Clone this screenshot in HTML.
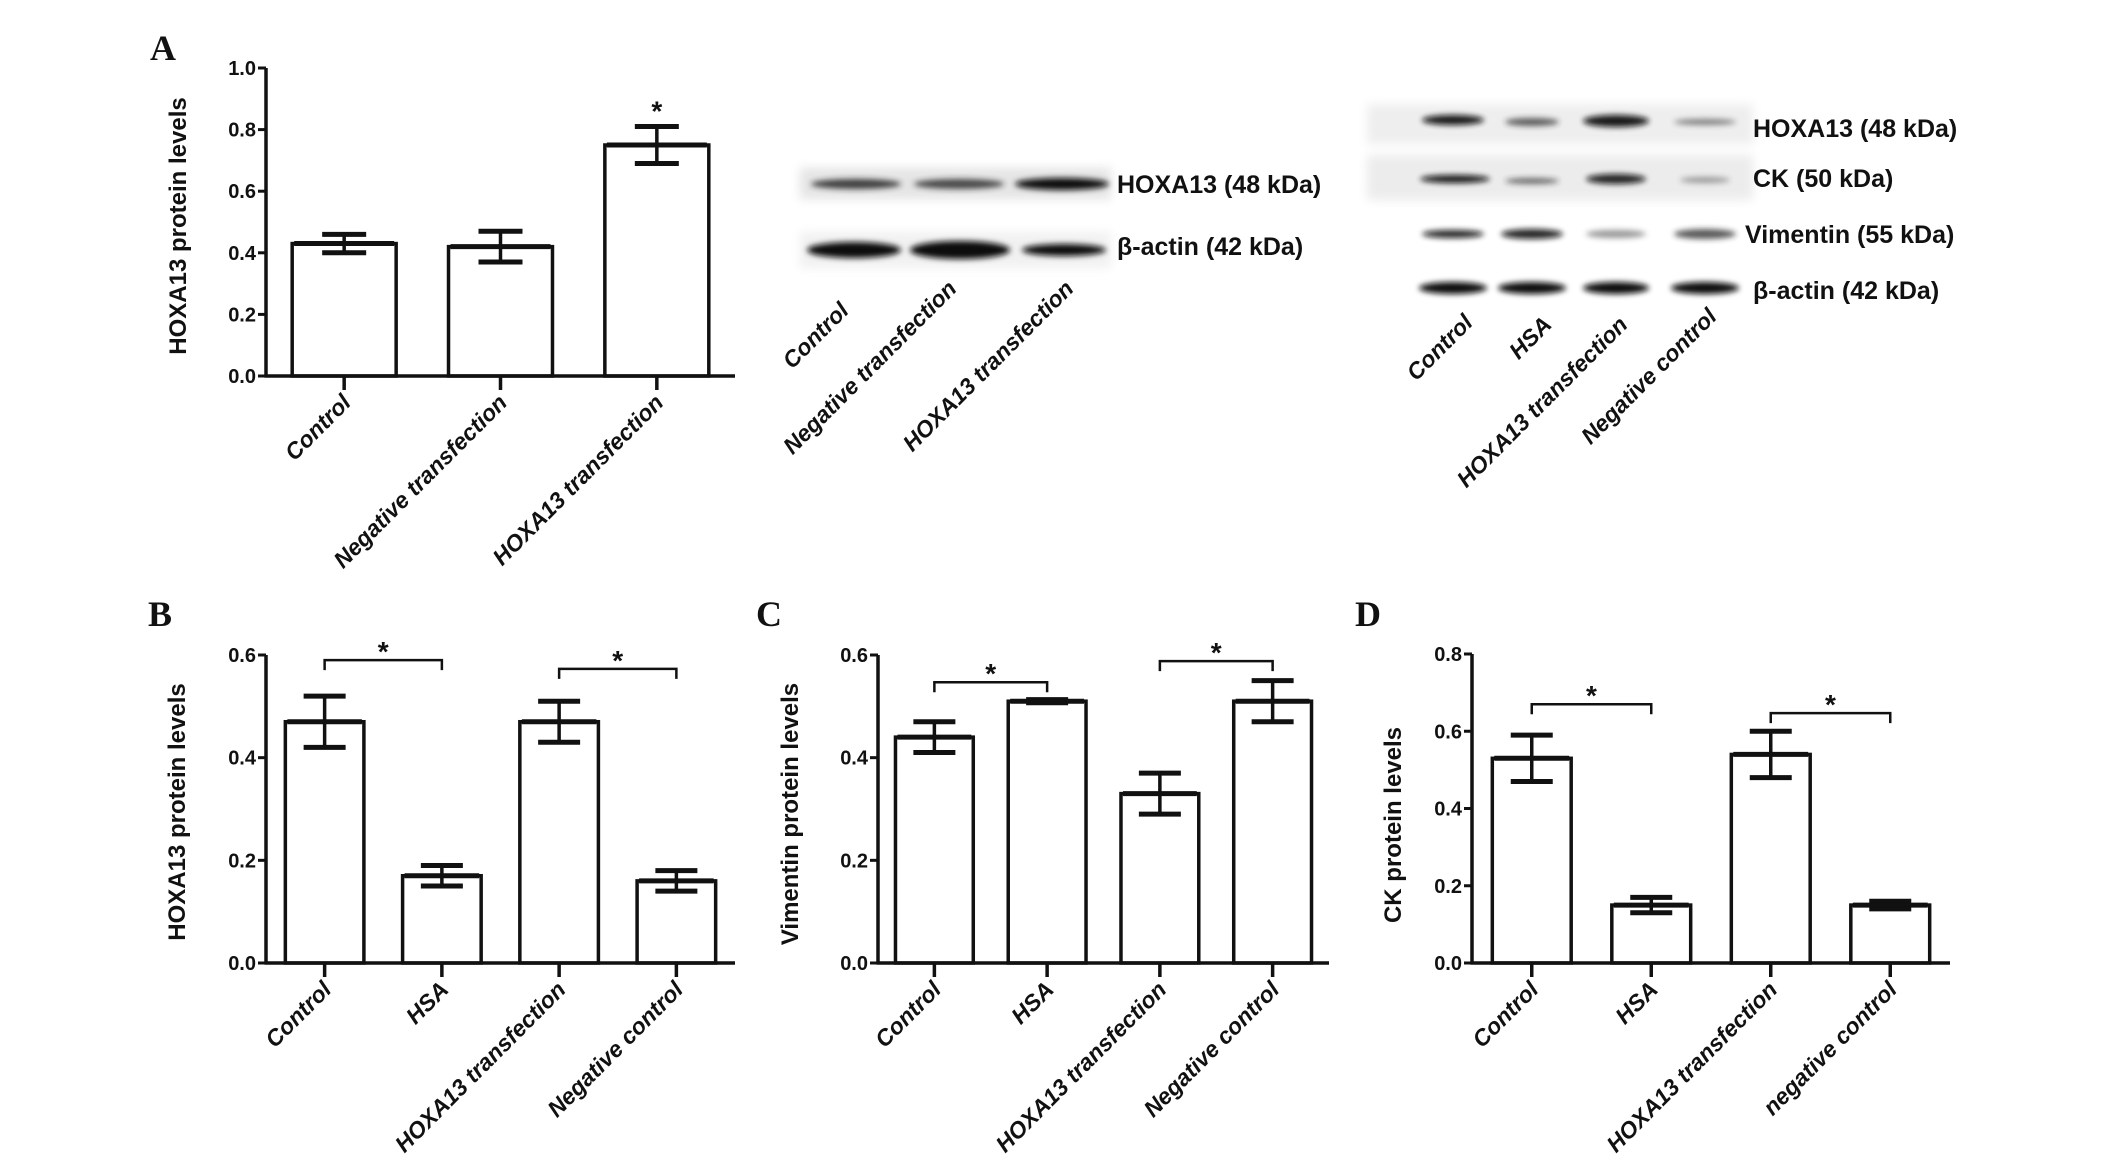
<!DOCTYPE html>
<html><head><meta charset="utf-8"><style>
html,body{margin:0;padding:0;background:#fff;}
svg{display:block;}
text{font-family:"Liberation Sans",sans-serif;fill:#111;}
.tick{font-size:20px;font-weight:bold;}
.cat{font-size:23px;font-weight:bold;font-style:italic;}
.ytitle{font-size:24px;font-weight:bold;}
.plabel{font-family:"Liberation Serif",serif;font-size:36px;font-weight:bold;}
.blot{font-size:25px;font-weight:bold;}
.star{font-size:28px;font-weight:bold;}
</style></head><body>
<svg id="fig" width="2126" height="1161" viewBox="0 0 2126 1161" xmlns="http://www.w3.org/2000/svg">
<defs>
<filter id="blur" x="-30%" y="-100%" width="160%" height="300%"><feGaussianBlur stdDeviation="3"/></filter>
<filter id="blur2" x="-10%" y="-50%" width="120%" height="200%"><feGaussianBlur stdDeviation="5"/></filter>
</defs>
<text class="plabel" x="150" y="60">A</text>
<text class="plabel" x="148" y="626">B</text>
<text class="plabel" x="756" y="626">C</text>
<text class="plabel" x="1355" y="626">D</text>

<g>
<rect x="800" y="168" width="311" height="31" fill="#e4e4e4" filter="url(#blur2)"/>
<rect x="800" y="232" width="311" height="36" fill="#f1f1f1" filter="url(#blur2)"/>
<ellipse cx="856" cy="184" rx="45" ry="5" fill="#222" opacity="0.85" filter="url(#blur)"/>
<ellipse cx="959" cy="184" rx="45" ry="5" fill="#222" opacity="0.8" filter="url(#blur)"/>
<ellipse cx="1062" cy="184" rx="47" ry="6" fill="#111" opacity="1" filter="url(#blur)"/>
<ellipse cx="854" cy="250" rx="47" ry="8" fill="#111" filter="url(#blur)"/>
<ellipse cx="960" cy="250" rx="50" ry="9" fill="#111" filter="url(#blur)"/>
<ellipse cx="1064" cy="250" rx="42" ry="6" fill="#111" filter="url(#blur)"/>
<text class="blot" x="1117" y="193">HOXA13 (48 kDa)</text>
<text class="blot" x="1117" y="255">β-actin (42 kDa)</text>
<text class="cat" text-anchor="end" transform="translate(850,312) rotate(-45)">Control</text>
<text class="cat" text-anchor="end" transform="translate(958,290) rotate(-45)">Negative transfection</text>
<text class="cat" text-anchor="end" transform="translate(1075,290) rotate(-45)">HOXA13 transfection</text>
</g>

<g>
<rect x="1367" y="104" width="386" height="40" fill="#eeeeee" filter="url(#blur2)"/>
<rect x="1367" y="155" width="386" height="45" fill="#ececec" filter="url(#blur2)"/>
<ellipse cx="1453" cy="120" rx="31" ry="5" fill="#111" opacity="0.95" filter="url(#blur)"/>
<ellipse cx="1532" cy="122" rx="27" ry="4" fill="#222" opacity="0.7" filter="url(#blur)"/>
<ellipse cx="1616" cy="121" rx="33" ry="6" fill="#111" opacity="0.95" filter="url(#blur)"/>
<ellipse cx="1705" cy="122" rx="31" ry="3" fill="#333" opacity="0.6" filter="url(#blur)"/>
<ellipse cx="1455" cy="179" rx="35" ry="4" fill="#111" opacity="0.95" filter="url(#blur)"/>
<ellipse cx="1532" cy="181" rx="27" ry="3" fill="#222" opacity="0.65" filter="url(#blur)"/>
<ellipse cx="1616" cy="179" rx="30" ry="5" fill="#111" opacity="0.9" filter="url(#blur)"/>
<ellipse cx="1705" cy="180" rx="25" ry="3" fill="#333" opacity="0.45" filter="url(#blur)"/>
<ellipse cx="1453" cy="234" rx="31" ry="4" fill="#111" opacity="0.9" filter="url(#blur)"/>
<ellipse cx="1532" cy="234" rx="31" ry="5" fill="#111" opacity="0.9" filter="url(#blur)"/>
<ellipse cx="1616" cy="234" rx="30" ry="4" fill="#333" opacity="0.5" filter="url(#blur)"/>
<ellipse cx="1705" cy="234" rx="31" ry="5" fill="#222" opacity="0.75" filter="url(#blur)"/>
<ellipse cx="1453" cy="288" rx="34" ry="6" fill="#111" filter="url(#blur)"/>
<ellipse cx="1532" cy="288" rx="34" ry="6" fill="#111" filter="url(#blur)"/>
<ellipse cx="1616" cy="288" rx="33" ry="6" fill="#111" filter="url(#blur)"/>
<ellipse cx="1705" cy="288" rx="34" ry="6" fill="#111" filter="url(#blur)"/>
<text class="blot" x="1753" y="137">HOXA13 (48 kDa)</text>
<text class="blot" x="1753" y="187">CK (50 kDa)</text>
<text class="blot" x="1745" y="243">Vimentin (55 kDa)</text>
<text class="blot" x="1753" y="299">β-actin (42 kDa)</text>
<text class="cat" text-anchor="end" transform="translate(1474,324) rotate(-45)">Control</text>
<text class="cat" text-anchor="end" transform="translate(1553,326) rotate(-45)">HSA</text>
<text class="cat" text-anchor="end" transform="translate(1629,326) rotate(-45)">HOXA13 transfection</text>
<text class="cat" text-anchor="end" transform="translate(1718,318) rotate(-45)">Negative control</text>
</g>
</svg>
<script>
// Panel A data
const aCategories = ["Control", "Negative transfection", "HOXA13 transfection"];
const aValues = [0.43, 0.42, 0.75];
const aErrors = [0.03, 0.05, 0.06];
const aTicks = [0.0, 0.2, 0.4, 0.6, 0.8, 1.0];
const aTickLabels = ["0.0", "0.2", "0.4", "0.6", "0.8", "1.0"];
// Panel B data
const bCategories = ["Control", "HSA", "HOXA13 transfection", "Negative control"];
const bValues = [0.47, 0.17, 0.47, 0.16];
const bErrors = [0.05, 0.02, 0.04, 0.02];
const bTicks = [0.0, 0.2, 0.4, 0.6];
const bTickLabels = ["0.0", "0.2", "0.4", "0.6"];
const bBracketLevels = [0.59, 0.573];
// Panel C data
const cCategories = ["Control", "HSA", "HOXA13 transfection", "Negative control"];
const cValues = [0.44, 0.51, 0.33, 0.51];
const cErrors = [0.03, 0.003, 0.04, 0.04];
const cTicks = [0.0, 0.2, 0.4, 0.6];
const cTickLabels = ["0.0", "0.2", "0.4", "0.6"];
const cBracketLevels = [0.547, 0.588];
// Panel D data
const dCategories = ["Control", "HSA", "HOXA13 transfection", "negative control"];
const dValues = [0.53, 0.15, 0.54, 0.15];
const dErrors = [0.06, 0.02, 0.06, 0.01];
const dTicks = [0.0, 0.2, 0.4, 0.6, 0.8];
const dTickLabels = ["0.0", "0.2", "0.4", "0.6", "0.8"];
const dBracketLevels = [0.67, 0.647];
const bracketPairs = [[0, 1], [2, 3]];

const NS = "http://www.w3.org/2000/svg";
const fig = document.getElementById("fig");
function mk(tag, attrs, parent) {
  const e = document.createElementNS(NS, tag);
  for (const k in attrs) e.setAttribute(k, attrs[k]);
  (parent || fig).appendChild(e);
  return e;
}

function drawPanel(p) {
  const g = mk("g", {});
  
  
  const ymax = p.ticks[p.ticks.length - 1];
  const y = v => p.y0 - (v / ymax) * (p.y0 - p.yTop);
  const band = (p.x1 - p.x0) / p.cats.length;
  const cx = i => p.x0 + (i + 0.5) * band;
  const bw = band * p.barFrac;
  const sw = 3.5;
  p.vals.forEach((v, i) => {
    const r = mk("rect", {x: cx(i) - bw / 2, y: y(v), width: bw, height: p.y0 - y(v), fill: "#fff", stroke: "#111", "stroke-width": sw}, g);
    
    
    const e = p.errs[i];
    const eg = mk("g", {stroke: "#111"}, g);
    
    
    mk("line", {x1: cx(i), x2: cx(i), y1: y(v + e), y2: y(v - e), "stroke-width": 3.5}, eg);
    mk("line", {x1: cx(i) - p.cap / 2, x2: cx(i) + p.cap / 2, y1: y(v + e), y2: y(v + e), "stroke-width": 5}, eg);
    mk("line", {x1: cx(i) - p.cap / 2, x2: cx(i) + p.cap / 2, y1: y(v - e), y2: y(v - e), "stroke-width": 5}, eg);
    mk("line", {x1: cx(i) - bw / 2 + 2, x2: cx(i) + bw / 2 - 2, y1: y(v), y2: y(v), "stroke-width": 5}, eg);
    mk("line", {x1: cx(i), x2: cx(i), y1: p.y0, y2: p.y0 + 14, stroke: "#111", "stroke-width": sw}, g);
    const t = mk("text", {class: "cat", "text-anchor": "end", transform: "translate(" + (cx(i) + 8) + "," + (p.y0 + 28) + ") rotate(-45)"}, g);
    t.textContent = p.cats[i];
    
    
  });
  const ya = mk("line", {x1: p.x0, x2: p.x0, y1: p.y0 + 1.5, y2: y(ymax), stroke: "#111", "stroke-width": sw}, g);
  
  
  const xa = mk("line", {x1: p.x0 - 1.5, x2: p.x1, y1: p.y0, y2: p.y0, stroke: "#111", "stroke-width": sw}, g);
  
  
  p.ticks.forEach((tv, i) => {
    mk("line", {x1: p.x0 - 8, x2: p.x0, y1: y(tv), y2: y(tv), stroke: "#111", "stroke-width": 3}, g);
    const t = mk("text", {class: "tick", x: p.x0 - 10, y: y(tv) + 7, "text-anchor": "end"}, g);
    t.textContent = p.tickLabels[i];
    
    
  });
  const yt = mk("text", {class: "ytitle", "text-anchor": "middle", transform: "translate(" + (p.titleX + 8) + "," + p.titleY + ") rotate(-90)"}, g);
  yt.textContent = p.title;
  
  
  if (p.brackets) {
    bracketPairs.forEach((pr, k) => {
      const ly = y(p.brackets[k]);
      const bg = mk("g", {}, g);
      
      
      mk("path", {d: "M" + cx(pr[0]) + "," + (ly + 10) + " V" + ly + " H" + cx(pr[1]) + " V" + (ly + 10), fill: "none", stroke: "#111", "stroke-width": 2.5}, bg);
      const s = mk("text", {class: "star", x: (cx(pr[0]) + cx(pr[1])) / 2, y: ly + 1, "text-anchor": "middle"}, bg);
      s.textContent = "*";
    });
  }
  if (p.starIndex !== undefined) {
    const i = p.starIndex;
    const s = mk("text", {class: "star", x: cx(i), y: y(p.vals[i] + p.errs[i]) - 6, "text-anchor": "middle"}, g);
    s.textContent = "*";
    
    
  }
}

drawPanel({id: "a", name: "bar-chart-a", cats: aCategories, vals: aValues, errs: aErrors, ticks: aTicks, tickLabels: aTickLabels,
  x0: 266, x1: 735, y0: 376, yTop: 68, barFrac: 0.665, cap: 44, title: "HOXA13 protein levels", titleX: 178, titleY: 226, starIndex: 2});
drawPanel({id: "b", name: "bar-chart-b", cats: bCategories, vals: bValues, errs: bErrors, ticks: bTicks, tickLabels: bTickLabels,
  x0: 266, x1: 735, y0: 963, yTop: 655, barFrac: 0.67, cap: 42, title: "HOXA13 protein levels", titleX: 177, titleY: 812, brackets: bBracketLevels});
drawPanel({id: "c", name: "bar-chart-c", cats: cCategories, vals: cValues, errs: cErrors, ticks: cTicks, tickLabels: cTickLabels,
  x0: 878, x1: 1329, y0: 963, yTop: 655, barFrac: 0.69, cap: 42, title: "Vimentin protein levels", titleX: 790, titleY: 814, brackets: cBracketLevels});
drawPanel({id: "d", name: "bar-chart-d", cats: dCategories, vals: dValues, errs: dErrors, ticks: dTicks, tickLabels: dTickLabels,
  x0: 1472, x1: 1950, y0: 963, yTop: 654, barFrac: 0.66, cap: 42, title: "CK protein levels", titleX: 1393, titleY: 825, brackets: dBracketLevels});
</script>
</body></html>
